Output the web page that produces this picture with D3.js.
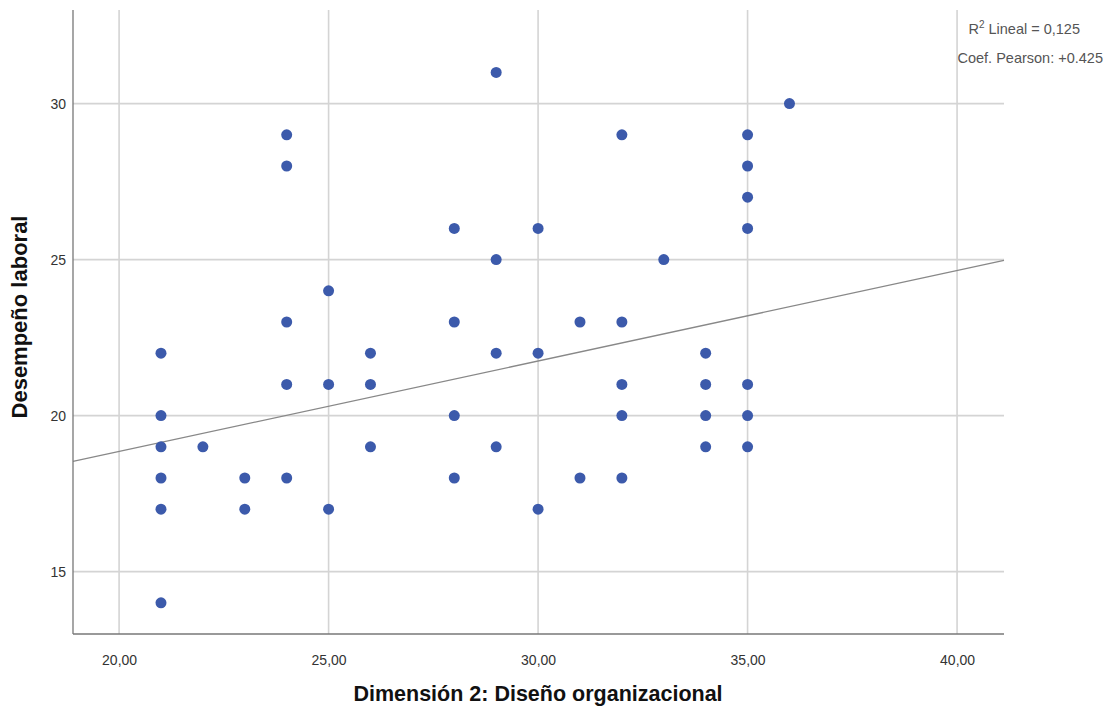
<!DOCTYPE html>
<html>
<head>
<meta charset="utf-8">
<script src="https://cdn.jsdelivr.net/npm/d3@7"></script>
<style>
  body { margin: 0; background: #fff; }
  svg { display: block; font-family: Arial, "Liberation Sans", sans-serif; }
  .grid line { stroke: #d4d4d4; stroke-width: 1.6; }
  .axis path, .axis line { stroke: #777; }
  .axis text { fill: #333; }
</style>
</head>
<body>
<svg width="1111" height="709"></svg>
<script>
// x = Dimensión 2, y = Desempeño laboral
var xVals = [21, 21, 21, 21, 21, 21, 22, 23, 23, 24, 24, 24, 24, 24, 25, 25, 25, 26, 26, 26,
             28, 28, 28, 28, 29, 29, 29, 29, 30, 30, 30, 31, 31, 32, 32, 32, 32, 32, 33,
             34, 34, 34, 34, 35, 35, 35, 35, 35, 35, 35, 36];
var yVals = [22, 20, 19, 18, 17, 14, 19, 18, 17, 29, 28, 23, 21, 18, 24, 21, 17, 22, 21, 19,
             26, 23, 20, 18, 31, 25, 22, 19, 26, 22, 17, 23, 18, 29, 23, 21, 20, 18, 25,
             22, 21, 20, 19, 29, 28, 27, 26, 21, 20, 19, 30];
var xTicks = [20, 25, 30, 35, 40];
var yTicks = [15, 20, 25, 30];
var fitLine = {intercept: 13.05, slope: 0.29};
var statLabels = ["Lineal = 0,125", "Coef. Pearson: +0.425"];

var svg = d3.select("svg"),
    margin = {top: 10, right: 107, bottom: 75, left: 73},
    width = 1111 - margin.left - margin.right,
    height = 709 - margin.top - margin.bottom,
    g = svg.append("g").attr("transform", "translate(" + margin.left + "," + margin.top + ")");

var x = d3.scaleLinear().domain([18.9, 41.12]).range([0, width]);
var y = d3.scaleLinear().domain([13.0, 33.0]).range([height, 0]);

// grid
g.append("g").attr("class", "grid")
  .selectAll("line").data(xTicks).enter().append("line")
    .attr("x1", function(d) { return x(d); }).attr("x2", function(d) { return x(d); })
    .attr("y1", 0).attr("y2", height);
g.append("g").attr("class", "grid")
  .selectAll("line").data(yTicks).enter().append("line")
    .attr("x1", 0).attr("x2", width)
    .attr("y1", function(d) { return y(d); }).attr("y2", function(d) { return y(d); });

// fit line
g.append("line")
    .attr("x1", x(18.9)).attr("y1", y(fitLine.intercept + fitLine.slope * 18.9))
    .attr("x2", x(41.12)).attr("y2", y(fitLine.intercept + fitLine.slope * 41.12))
    .attr("stroke", "#888").attr("stroke-width", 1.3);

// points
var pts = xVals.map(function(v, i) { return {x: v, y: yVals[i]}; });
g.selectAll("circle").data(pts).enter().append("circle")
    .attr("cx", function(d) { return x(d.x); })
    .attr("cy", function(d) { return y(d.y); })
    .attr("r", 5.5)
    .attr("fill", "#3c5aab");

// axes
var xAxis = g.append("g").attr("class", "axis")
    .attr("transform", "translate(0," + height + ")")
    .call(d3.axisBottom(x).tickValues(xTicks).tickSize(0).tickPadding(21)
      .tickFormat(function(d) { return d3.format(".2f")(d).replace(".", ","); }));
var yAxis = g.append("g").attr("class", "axis")
    .call(d3.axisLeft(y).tickValues(yTicks).tickSize(0).tickPadding(7));
xAxis.attr("font-size", 14).attr("font-family", null);
yAxis.attr("font-size", 14).attr("font-family", null);
xAxis.select(".domain").attr("d", "M0,0H" + width).attr("stroke-width", 1.3);
yAxis.select(".domain").attr("d", "M0,0V" + height).attr("stroke-width", 1.3);

// titles
svg.append("text")
    .attr("x", 538).attr("y", 701)
    .attr("text-anchor", "middle")
    .attr("font-size", "21.5px").attr("font-weight", "bold").attr("fill", "#111")
    .text("Dimensión 2: Diseño organizacional");
svg.append("text")
    .attr("transform", "translate(27,317) rotate(-90)")
    .attr("text-anchor", "middle")
    .attr("font-size", "22px").attr("font-weight", "bold").attr("fill", "#111")
    .text("Desempeño laboral");

// stats
var r2 = svg.append("text")
    .attr("x", 1080).attr("y", 34)
    .attr("text-anchor", "end").attr("font-size", "14.5px").attr("fill", "#555");
r2.append("tspan").text("R");
r2.append("tspan").attr("font-size", "10px").attr("dy", -6).text("2");
r2.append("tspan").attr("dy", 6).text(" " + statLabels[0]);
svg.append("text")
    .attr("x", 1103).attr("y", 63)
    .attr("text-anchor", "end").attr("font-size", "14.5px").attr("fill", "#555")
    .text(statLabels[1]);
</script>
</body>
</html>
